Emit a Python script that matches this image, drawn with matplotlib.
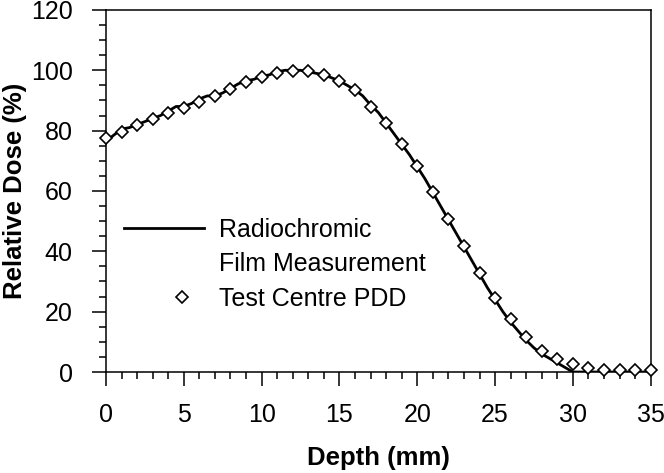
import matplotlib
matplotlib.use("Agg")
import matplotlib.pyplot as plt
from matplotlib.ticker import MultipleLocator
from matplotlib.legend_handler import HandlerLine2D
from matplotlib.lines import Line2D

plt.rcParams['font.family'] = ['Liberation Sans', 'DejaVu Sans']

# Test centre PDD (diamonds), 1 mm steps
pdd_depth = list(range(0, 36))
pdd_dose = [77.7, 79.7, 81.9, 83.8, 85.7, 87.6, 89.5, 91.5, 93.7, 96.0,
            97.9, 99.2, 99.9, 99.6, 98.3, 96.6, 93.3, 87.9, 82.6, 75.6,
            68.4, 59.6, 50.7, 41.8, 32.7, 24.4, 17.5, 11.7, 7.1, 4.2,
            2.5, 1.4, 0.8, 0.7, 0.7, 0.7]

# Radiochromic film measurement (line), 0.5 mm steps
film_depth = [i * 0.5 for i in range(0, 71)]
film_dose = [76.5, 78.5, 80.5, 81.0, 82.0, 83.0, 84.0, 85.0, 86.5, 88.0,
             88.0, 89.0, 90.5, 91.5, 91.5, 92.5, 94.0, 95.5, 96.5, 97.0,
             98.0, 98.5, 99.5, 100.0, 100.0, 100.0, 99.5, 99.0, 98.5, 97.5,
             96.5, 95.0, 93.5, 91.5, 88.5, 86.0, 82.5, 79.0, 75.5, 72.0,
             68.0, 64.0, 59.5, 55.0, 50.5, 46.0, 41.5, 37.0, 32.5, 28.0,
             24.0, 20.0, 16.5, 13.5, 10.5, 8.0, 6.0, 4.5, 3.0, 1.5,
             0.0, 0.0, 0.0, 0.0, 0.0, 0.0, 0.0, 0.0, 0.0, 0.0, 0.0]

legend_labels = ['Radiochromic', 'Film Measurement', 'Test Centre PDD']


class OffsetMarker(HandlerLine2D):
    # put the single legend marker right of the handle centre
    def get_xdata(self, legend, xdescent, ydescent, width, height, fontsize):
        x = -xdescent + width * 0.73
        return [x, x], [x]


fig = plt.figure(figsize=(6.64, 4.73), dpi=100)
ax = fig.add_axes([0.1596, 0.2135, 0.8204, 0.7655])

line, = ax.plot(film_depth, film_dose, color='black', lw=2.0, zorder=2)
pts, = ax.plot(pdd_depth, pdd_dose, ls='none', marker='D', ms=6.2,
               mfc='white', mec='black', mew=1.2, zorder=3, clip_on=False)

ax.set_xlim(0, 35)
ax.set_ylim(0, 120)
ax.xaxis.set_major_locator(MultipleLocator(5))
ax.xaxis.set_minor_locator(MultipleLocator(1))
ax.yaxis.set_major_locator(MultipleLocator(20))
ax.yaxis.set_minor_locator(MultipleLocator(5))
ax.tick_params(which='major', direction='out', length=10, width=1.1,
               labelsize=18, top=False, right=False)
ax.tick_params(axis='x', which='major', pad=12)
ax.tick_params(axis='y', which='major', pad=14)
ax.tick_params(which='minor', direction='out', length=4.8, width=1.1,
               top=False, right=False)
for s in ax.spines.values():
    s.set_linewidth(1.1)

ax.set_xlabel('Depth (mm)', fontsize=18.5, fontweight='bold', labelpad=14)
ax.set_ylabel('Relative Dose (%)', fontsize=18.5, fontweight='bold', labelpad=3)

blank = Line2D([], [], ls='none')
ax.legend(handles=[line, blank, pts], labels=legend_labels,
          loc='center left', bbox_to_anchor=(0.033, 0.298),
          frameon=False, fontsize=18, handlelength=3.2, handletextpad=0.62,
          borderpad=0, borderaxespad=0, labelspacing=0.42, numpoints=1,
          handler_map={pts: OffsetMarker(numpoints=1)})

fig.savefig('out.png', dpi=100)
